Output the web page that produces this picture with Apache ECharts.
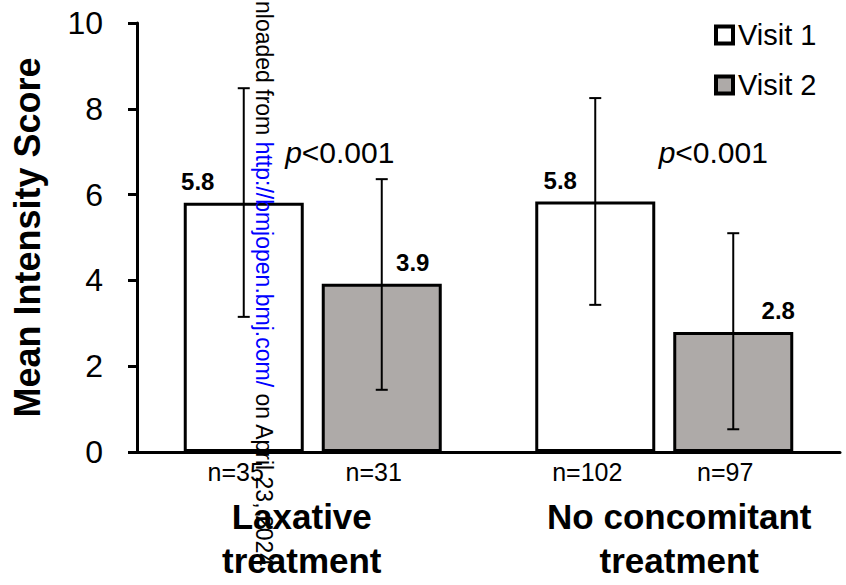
<!DOCTYPE html>
<html>
<head>
<meta charset="utf-8">
<script src="https://cdn.jsdelivr.net/npm/echarts@6/dist/echarts.min.js"></script>
<style>
html,body{margin:0;padding:0;background:#fff;}
#chart{width:846px;height:585px;}
</style>
</head>
<body>
<div id="chart"></div>
<script>
// ---- data ----
const categories = ['Laxative\ntreatment', 'No concomitant\ntreatment'];
const visit1 = [5.81, 5.84];
const visit2 = [3.92, 2.80];
const visit1Low = [3.15, 3.43];
const visit1High = [8.48, 8.25];
const visit2Low = [1.45, 0.53];
const visit2High = [6.36, 5.10];
const visit1N = ['n=35', 'n=102'];
const visit2N = ['n=31', 'n=97'];
const pValues = ['<0.001', '<0.001'];
const yMin = 0, yMax = 10, yInterval = 2;

// ---- styles ----
const FONT = 'Arial, "Liberation Sans", sans-serif';
const BAR_W = 120;
const BAR_GAP = 0.15;
const SLOT = BAR_W * (1 + BAR_GAP) / 2;
const V1_LABEL_DX = [-46, -35];
const V2_LABEL_DX = [31, 45];
const P_DX = [27, 49];
const P_Y = 6.97;

const chart = echarts.init(document.getElementById('chart'), null, {renderer: 'svg'});

const errData = [];
for (let i = 0; i < categories.length; i++) {
  errData.push([i, visit1Low[i], visit1High[i], 0]);
  errData.push([i, visit2Low[i], visit2High[i], 1]);
}

const option = {
  animation: false,
  backgroundColor: '#fff',
  grid: {left: 137, right: 6, top: 23, bottom: 133, containLabel: false},
  legend: {
    data: ['Visit 1', 'Visit 2'],
    orient: 'vertical',
    left: 709, top: 15,
    itemWidth: 17, itemHeight: 17,
    itemGap: 20,
    icon: 'rect',
    itemStyle: {borderColor: '#000', borderWidth: 4},
    textStyle: {fontFamily: FONT, fontSize: 29, color: '#000', lineHeight: 30, padding: [0, 0, 0, 0]}
  },
  xAxis: {
    type: 'category',
    data: categories,
    axisLine: {lineStyle: {color: '#000', width: 3}},
    axisTick: {length: 14, lineStyle: {color: '#000', width: 3}},
    axisLabel: {
      margin: 42,
      interval: 0,
      formatter: function (v, idx) {
        const lines = v.split('\n');
        const key = idx === 0 ? 'l' : 'r';
        return lines.map(s => '{' + key + '|' + s + '}').join('\n');
      },
      rich: {
        l: {fontFamily: FONT, fontSize: 35, fontWeight: 'bold', color: '#000', lineHeight: 44, padding: [0, 22, 0, 0]},
        r: {fontFamily: FONT, fontSize: 35, fontWeight: 'bold', color: '#000', lineHeight: 44, padding: [0, 0, 0, 30]}
      }
    }
  },
  yAxis: {
    type: 'value',
    min: yMin, max: yMax, interval: yInterval,
    name: 'Mean Intensity Score',
    nameLocation: 'middle',
    nameGap: 92,
    nameTextStyle: {fontFamily: FONT, fontSize: 36, fontWeight: 'bold', color: '#000'},
    axisLine: {show: true, lineStyle: {color: '#000', width: 3}},
    axisTick: {show: true, length: 9, lineStyle: {color: '#000', width: 3}},
    axisLabel: {margin: 34, fontFamily: FONT, fontSize: 32, color: '#000'},
    splitLine: {show: false}
  },
  series: [
    {
      name: 'Visit 1',
      type: 'bar',
      barWidth: BAR_W,
      barGap: (BAR_GAP * 100) + '%',
      itemStyle: {color: '#ffffff', borderColor: '#000', borderWidth: 3},
      label: {show: true, position: 'top', distance: 9, fontFamily: FONT, fontSize: 24, fontWeight: 'bold', color: '#000',
        formatter: p => p.value.toFixed(1)},
      data: visit1.map((v, i) => ({value: v, label: {offset: [V1_LABEL_DX[i], 0]}}))
    },
    {
      name: 'Visit 2',
      type: 'bar',
      barWidth: BAR_W,
      barGap: (BAR_GAP * 100) + '%',
      itemStyle: {color: '#aeaaa8', borderColor: '#000', borderWidth: 3},
      label: {show: true, position: 'top', distance: 9, fontFamily: FONT, fontSize: 24, fontWeight: 'bold', color: '#000',
        formatter: p => p.value.toFixed(1)},
      data: visit2.map((v, i) => ({value: v, label: {offset: [V2_LABEL_DX[i], 0]}}))
    },
    {
      name: 'errors',
      type: 'custom',
      silent: true,
      z: 5,
      renderItem: function (params, api) {
        const cat = api.value(0);
        const slot = api.value(3);
        const dx = slot === 0 ? -SLOT : SLOT;
        const lo = api.coord([cat, api.value(1)]);
        const hi = api.coord([cat, api.value(2)]);
        const base = api.coord([cat, 0]);
        const x = lo[0] + dx;
        const cap = 6;
        const st = {stroke: '#000', lineWidth: 2};
        const nText = (slot === 0 ? visit1N : visit2N)[cat];
        return {
          type: 'group',
          children: [
            {type: 'line', shape: {x1: x, y1: hi[1], x2: x, y2: lo[1]}, style: st},
            {type: 'line', shape: {x1: x - cap, y1: hi[1], x2: x + cap, y2: hi[1]}, style: st},
            {type: 'line', shape: {x1: x - cap, y1: lo[1], x2: x + cap, y2: lo[1]}, style: st},
            {type: 'text', x: x - 8, y: base[1] + 20, style: {text: nText, fontFamily: FONT, fontSize: 25, fill: '#000', align: 'center', verticalAlign: 'middle'}}
          ]
        };
      },
      data: errData
    },
    {
      name: 'pvalues',
      type: 'custom',
      silent: true,
      renderItem: function (params, api) {
        const c = api.coord([api.value(0), P_Y]);
        return {
          type: 'text',
          x: c[0] + P_DX[params.dataIndex],
          y: c[1],
          style: {
            text: '{i|p}{n|' + pValues[params.dataIndex] + '}',
            align: 'center', verticalAlign: 'middle',
            rich: {
              i: {fontFamily: FONT, fontSize: 30, fontStyle: 'italic', fill: '#000'},
              n: {fontFamily: FONT, fontSize: 30, fill: '#000'}
            }
          }
        };
      },
      data: categories.map((c, i) => [i])
    }
  ],
  graphic: [
    {
      type: 'text',
      x: 264, y: 1,
      rotation: -Math.PI / 2,
      z: 100,
      style: {
        text: '{k|nloaded from }{b|http://bmjopen.bmj.com/}{k| on April 23, 2024}',
        verticalAlign: 'middle', align: 'left',
        rich: {
          k: {fontFamily: FONT, fontSize: 23, fill: '#000'},
          b: {fontFamily: FONT, fontSize: 23, fill: '#0000ff'}
        }
      }
    }
  ]
};
chart.setOption(option);
</script>
</body>
</html>
